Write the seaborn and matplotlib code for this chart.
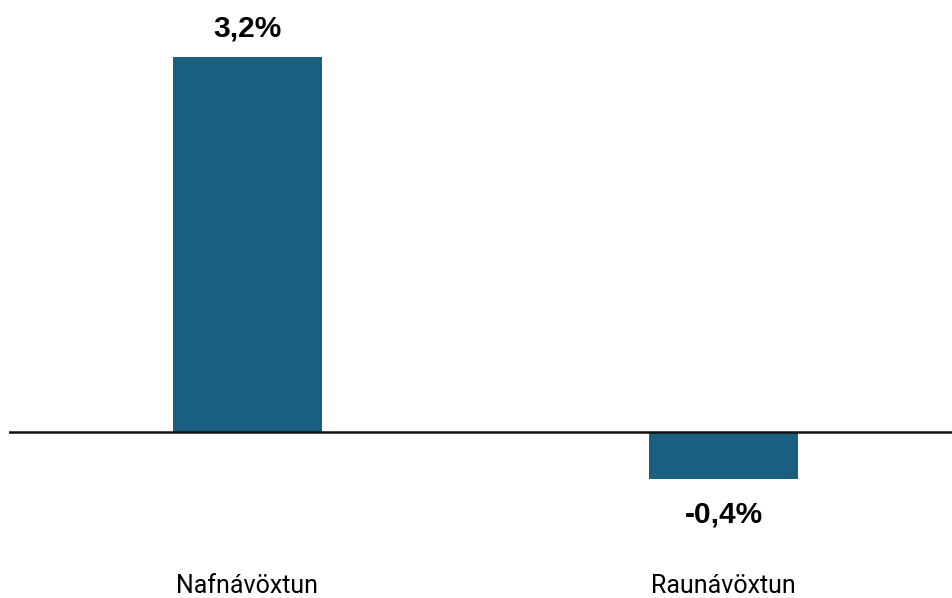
import numpy as np
import pandas as pd
import seaborn as sns
import matplotlib
matplotlib.use('Agg')
import matplotlib.pyplot as plt

# data
categories = ['Nafnávöxtun', 'Raunávöxtun']
values = [3.2, -0.4]
value_labels = ['3,2%', '-0,4%']

bar_color = '#1a5e80'

df = pd.DataFrame({'cat': categories, 'val': values})

sns.set_style('white')
plt.rcParams['font.family'] = ['Roboto', 'DejaVu Sans']

fig = plt.figure(figsize=(9.52, 5.98), dpi=100)
ax = fig.add_axes([9 / 952, 38 / 598, 943 / 952, 560 / 598])

sns.barplot(data=df, x='cat', y='val', color=bar_color, width=0.313,
            saturation=1, linewidth=0, ax=ax)

ax.axhline(0, color='#111111', lw=1.8, zorder=3)
ax.set_xlim(-0.501, 1.48)
ax.set_ylim(-1.09, 3.686)

for i, (v, lab) in enumerate(zip(values, value_labels)):
    off = 0.24 if v > 0 else -0.30
    ax.text(i, v + off, lab, ha='center', va='center', fontsize=21.5,
            fontweight='bold', color='black',
            family=['Liberation Sans', 'DejaVu Sans'])

ax.set_xlabel('')
ax.set_ylabel('')
ax.set_yticks([])
ax.tick_params(axis='x', length=0, pad=10, labelsize=18, labelcolor='black')
sns.despine(ax=ax, left=True, bottom=True, top=True, right=True)

fig.savefig('out.png', dpi=100)
